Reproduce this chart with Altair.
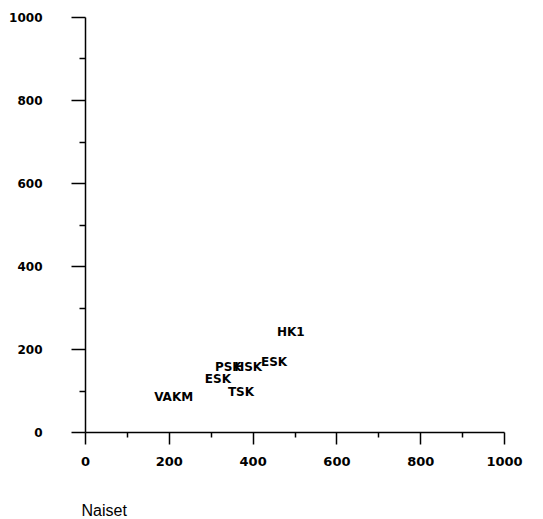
import altair as alt
import pandas as pd

labels = ["HK1", "ESK", "PSK", "HSK", "ESK", "TSK", "VAKM"]
naiset_x = [458, 420, 310, 356, 286, 341, 165]
naiset_y = [241, 169, 157, 157, 128, 96, 84]

tick_values = list(range(0, 1001, 100))

df = pd.DataFrame({"label": labels, "x": naiset_x, "y": naiset_y})

major_test = "datum.value % 200 == 0"

xaxis = alt.Axis(
    values=tick_values,
    format="d",
    labelExpr=f"{major_test} ? datum.label : ''",
    tickSize={"condition": {"test": major_test, "value": 12}, "value": 5},
    labelPadding=11,
    labelFont="DejaVu Sans",
    labelFontWeight="bold",
    labelFontSize=13,
    labelColor="black",
    domainColor="black",
    domainWidth=1.5,
    tickColor="black",
    tickWidth=1.5,
    grid=False,
    title="Naiset",
    titleFont="Liberation Sans",
    titleFontWeight="normal",
    titleFontSize=16,
    titleColor="black",
    titleAnchor="start",
    titleAlign="left",
    titleBaseline="middle",
    titleX=-4,
    titleY=78,
    labelFlush=False,
)

yaxis = alt.Axis(
    values=tick_values,
    format="d",
    labelExpr=f"{major_test} ? datum.label : ''",
    tickSize={"condition": {"test": major_test, "value": 14}, "value": 6},
    labelPadding=29,
    labelFont="DejaVu Sans",
    labelFontWeight="bold",
    labelFontSize=12,
    labelColor="black",
    domainColor="black",
    domainWidth=1.5,
    tickColor="black",
    tickWidth=1.5,
    grid=False,
    title=None,
    labelFlush=False,
)

chart = (
    alt.Chart(df)
    .mark_text(
        align="left",
        baseline="middle",
        font="DejaVu Sans",
        fontWeight="bold",
        fontSize=12,
        color="black",
    )
    .encode(
        x=alt.X("x:Q", scale=alt.Scale(domain=[0, 1000], nice=False), axis=xaxis),
        y=alt.Y("y:Q", scale=alt.Scale(domain=[0, 1000], nice=False), axis=yaxis),
        text="label:N",
    )
    .properties(
        width=419,
        height=415,
        padding={"left": 0, "top": 3, "right": 5, "bottom": 5},
        background="white",
    )
    .configure_view(stroke=None)
)

chart.save("out.html", embed_options={"renderer": "svg", "actions": False})
